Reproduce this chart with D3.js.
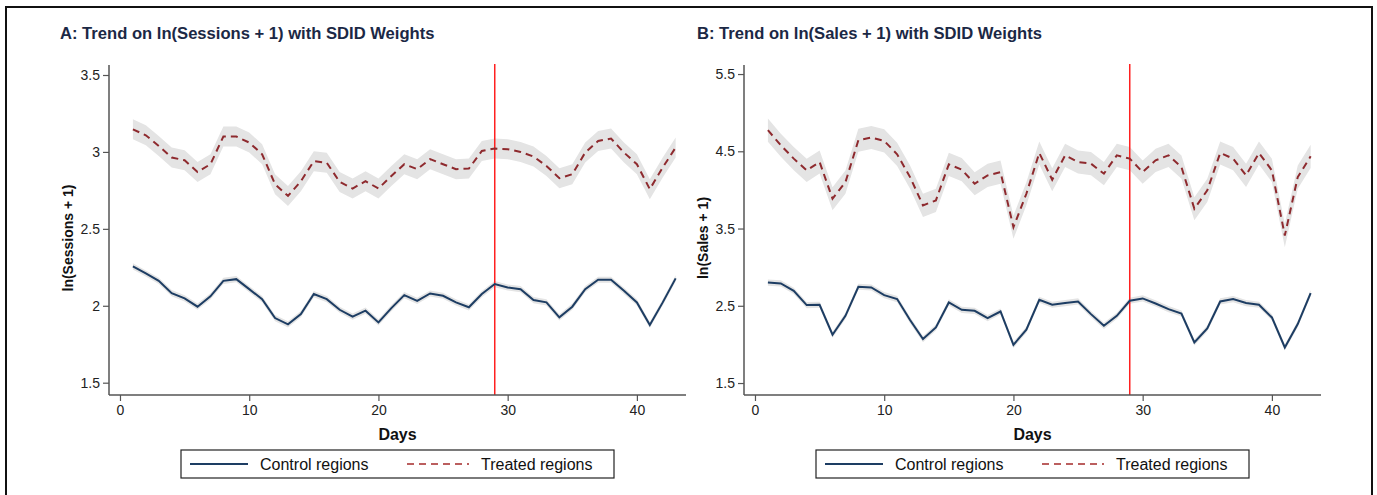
<!DOCTYPE html>
<html>
<head>
<meta charset="utf-8">
<script src="https://cdn.jsdelivr.net/npm/d3@7"></script>
<style>
  body { margin: 0; background: #fff; }
  text { font-family: "Liberation Sans", Arial, sans-serif; }
</style>
</head>
<body>
<svg id="chart" width="1377" height="495"></svg>
<script>
// datos
let dias = d3.range(1, 44);
let ticksX = [0, 10, 20, 30, 40];
let diaTratamiento = 29;

let sesionesControl = [2.256, 2.21, 2.162, 2.082, 2.048, 1.994, 2.061, 2.162, 2.173, 2.108, 2.043, 1.92, 1.879, 1.946, 2.076, 2.043, 1.974, 1.929, 1.968, 1.892, 1.985, 2.069, 2.032, 2.08, 2.065, 2.022, 1.99, 2.076, 2.141, 2.119, 2.108, 2.037, 2.022, 1.925, 1.994, 2.108, 2.169, 2.169, 2.097, 2.022, 1.875, 2.022, 2.178];
let sesionesTratadas = [3.147, 3.108, 3.039, 2.964, 2.946, 2.870, 2.920, 3.10, 3.10, 3.061, 2.985, 2.79, 2.714, 2.81, 2.94, 2.93, 2.805, 2.762, 2.81, 2.762, 2.844, 2.92, 2.888, 2.953, 2.92, 2.888, 2.892, 3.006, 3.022, 3.018, 3.0, 2.97, 2.909, 2.829, 2.855, 2.996, 3.071, 3.087, 2.996, 2.92, 2.758, 2.899, 3.029];
let ventasControl = [2.80, 2.789, 2.694, 2.509, 2.513, 2.125, 2.37, 2.746, 2.737, 2.638, 2.587, 2.315, 2.069, 2.219, 2.543, 2.448, 2.435, 2.34, 2.426, 1.995, 2.19, 2.578, 2.513, 2.535, 2.556, 2.392, 2.241, 2.37, 2.565, 2.595, 2.53, 2.457, 2.40, 2.025, 2.206, 2.556, 2.587, 2.535, 2.513, 2.349, 1.96, 2.263, 2.664];
let ventasTratadas = [4.773, 4.578, 4.405, 4.253, 4.361, 3.886, 4.10, 4.643, 4.678, 4.634, 4.461, 4.166, 3.80, 3.864, 4.331, 4.262, 4.08, 4.188, 4.231, 3.517, 3.95, 4.478, 4.132, 4.448, 4.361, 4.34, 4.21, 4.448, 4.405, 4.231, 4.383, 4.448, 4.296, 3.756, 3.994, 4.478, 4.405, 4.188, 4.478, 4.253, 3.409, 4.166, 4.435];

// medio ancho del intervalo de confianza (banda gris)
let ciSesiones = { control: 0.02, tratadas: 0.065 };
let ciVentas = { control: 0.04, tratadas: 0.15 };

let ticksSesiones = [1.5, 2, 2.5, 3, 3.5];
let ticksVentas = [1.5, 2.5, 3.5, 4.5, 5.5];

let colorControl = "#1d3d63";
let colorTratado = "#8e2a2e";
let colorTitulo = "#1b2845";

let svg = d3.select("#chart");

// marco exterior
svg.append("rect")
    .attr("x", 6).attr("y", 7)
    .attr("width", 1366).attr("height", 500)
    .attr("fill", "none")
    .attr("stroke", "#111")
    .attr("stroke-width", 2);

function graficarPanel(cfg) {
    let g = svg.append("g");

    let x = d3.scaleLinear().domain([-0.85, 43.8]).range([cfg.left, cfg.right]);
    let y = d3.scaleLinear().domain(cfg.yDomain).range([395, 65]);

    // titulo
    g.append("text")
        .attr("x", cfg.tituloX).attr("y", 39)
        .attr("font-size", 16.6).attr("font-weight", "bold")
        .attr("fill", colorTitulo)
        .text(cfg.titulo);

    // bandas
    let banda = (ci) => d3.area()
        .x((d, i) => x(dias[i]))
        .y0((d) => y(d - ci))
        .y1((d) => y(d + ci));

    g.append("path").datum(cfg.tratadas)
        .attr("d", banda(cfg.ci.tratadas))
        .attr("fill", "#e4e4e4");
    g.append("path").datum(cfg.control)
        .attr("d", banda(cfg.ci.control))
        .attr("fill", "#e4e4e4");

    // linea vertical de tratamiento
    g.append("line")
        .attr("x1", x(diaTratamiento)).attr("x2", x(diaTratamiento))
        .attr("y1", 64).attr("y2", 395)
        .attr("stroke", "#ff2020").attr("stroke-width", 1.5);

    let linea = d3.line().x((d, i) => x(dias[i])).y((d) => y(d));

    g.append("path").datum(cfg.control)
        .attr("d", linea)
        .attr("fill", "none")
        .attr("stroke", colorControl)
        .attr("stroke-width", 2);

    g.append("path").datum(cfg.tratadas)
        .attr("d", linea)
        .attr("fill", "none")
        .attr("stroke", colorTratado)
        .attr("stroke-width", 2)
        .attr("stroke-dasharray", "7,5");

    // ejes
    let ejeY = g.append("g")
        .attr("transform", `translate(${cfg.left},0)`)
        .call(d3.axisLeft(y).tickValues(cfg.yTicks).tickSize(6).tickPadding(3).tickFormat(d3.format("")));
    let ejeX = g.append("g")
        .attr("transform", "translate(0,395)")
        .call(d3.axisBottom(x).tickValues(ticksX).tickSize(6).tickPadding(4));

    [ejeY, ejeX].forEach((e) => {
        e.select(".domain").attr("stroke", "#555").attr("stroke-width", 1.5);
        e.selectAll(".tick line").attr("stroke", "#555").attr("stroke-width", 1.2);
        e.selectAll(".tick text")
            .attr("font-size", 14)
            .attr("font-family", "Liberation Sans, Arial, sans-serif")
            .attr("fill", "#222");
    });
    ejeY.select(".domain").attr("d", `M0,65V395`);
    ejeX.select(".domain").attr("d", `M${cfg.left},0H${cfg.right}`);

    // titulos de ejes
    let centro = (cfg.left + cfg.right) / 2;
    g.append("text")
        .attr("x", centro).attr("y", 440)
        .attr("text-anchor", "middle")
        .attr("font-size", 16).attr("font-weight", "bold")
        .attr("fill", "#111")
        .text("Days");

    g.append("text")
        .attr("transform", `translate(${cfg.left - 36},${238}) rotate(-90)`)
        .attr("text-anchor", "middle")
        .attr("font-size", 14).attr("font-weight", "bold")
        .attr("fill", "#111")
        .text(cfg.tituloY);

    // leyenda
    let ley = g.append("g").attr("transform", `translate(${centro - 216.5},450)`);
    ley.append("rect")
        .attr("width", 433).attr("height", 28)
        .attr("fill", "#fff").attr("stroke", "#222").attr("stroke-width", 1.2);
    ley.append("line")
        .attr("x1", 9).attr("x2", 67).attr("y1", 14).attr("y2", 14)
        .attr("stroke", colorControl).attr("stroke-width", 2);
    ley.append("text")
        .attr("x", 79).attr("y", 20)
        .attr("font-size", 16).attr("fill", "#111")
        .text("Control regions");
    ley.append("line")
        .attr("x1", 226).attr("x2", 288).attr("y1", 14).attr("y2", 14)
        .attr("stroke", "#a52a2a").attr("stroke-width", 1.6)
        .attr("stroke-dasharray", "7,5");
    ley.append("text")
        .attr("x", 300).attr("y", 20)
        .attr("font-size", 16).attr("fill", "#111")
        .text("Treated regions");
}

graficarPanel({
    left: 109, right: 686,
    yDomain: [1.42, 3.565],
    yTicks: ticksSesiones,
    titulo: "A: Trend on ln(Sessions + 1) with SDID Weights",
    tituloX: 60,
    tituloY: "ln(Sessions + 1)",
    control: sesionesControl,
    tratadas: sesionesTratadas,
    ci: ciSesiones
});

graficarPanel({
    left: 744, right: 1321,
    yDomain: [1.345, 5.617],
    yTicks: ticksVentas,
    titulo: "B: Trend on ln(Sales + 1) with SDID Weights",
    tituloX: 697,
    tituloY: "ln(Sales + 1)",
    control: ventasControl,
    tratadas: ventasTratadas,
    ci: ciVentas
});
</script>
</body>
</html>
